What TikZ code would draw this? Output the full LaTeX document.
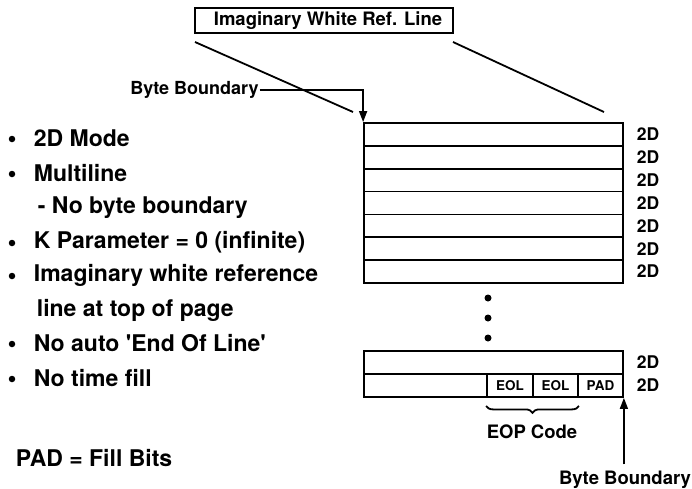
\documentclass[tikz,border=0pt]{standalone}
\usepackage{fontspec}
\setmainfont{TeX Gyre Heros}
\usetikzlibrary{positioning,arrows.meta,decorations.pathreplacing}

\begin{document}
\begin{tikzpicture}[x=1pt,y=-1pt,line width=1.8pt,
    txt/.style={font=\bfseries\fontsize{23}{26}\selectfont,inner sep=0pt,anchor=west},
    small/.style={font=\bfseries\fontsize{17.5}{18}\selectfont,inner sep=0pt},
    row/.style={draw,minimum width=259pt,minimum height=22.86pt,inner sep=0pt},
    cell/.style={draw,minimum height=23pt,inner sep=0pt,font=\bfseries\fontsize{13.5}{15}\selectfont},
    dotmark/.style={circle,fill,inner sep=0pt,minimum size=7pt},
    tip/.style={-{Triangle[width=8pt,length=11pt]}}]
    \useasboundingbox (0,0) rectangle (692,488);
    % reference line box and its perspective lines
    \node[draw,minimum width=258pt,minimum height=25pt,inner sep=0pt,
        font=\bfseries\fontsize{18.5}{20}\selectfont] (ref) at (324,20.5) {\hspace{8pt}Imaginary White Ref. Line};
    \coordinate (refl) at (195,42);
    \coordinate (refr) at (453,42);
    \coordinate (topl) at (353,112);
    \coordinate (topr) at (604,112);
    \draw (refl) -- (topl);
    \draw (refr) -- (topr);
    % upper stack of lines
    \foreach \i in {0,...,6}
        \node[row] (r\i) at (493.5,{134.4+\i*22.86}) {};
    \foreach \i in {0,...,6}
        \node[small,anchor=west] (d\i) at ([xshift=12pt]r\i.east) {2D};
    \node[font=\bfseries\fontsize{18}{20}\selectfont,inner sep=0pt] (bbtop) at (194.5,90) {Byte Boundary};
    \draw[tip,line width=1.5pt] (bbtop.east) -| (r0.north west);
    % dots
    \foreach \y [count=\n] in {298,318,338}
        \node[dotmark] (dot\n) at (488,\y) {};
    % last two lines
    \node[row,minimum height=23pt] (q1) at (493.5,362.5) {};
    \node[row,minimum height=23pt] (q2) at (493.5,385.5) {};
    \node[small,anchor=west] (e1) at ([xshift=12pt]q1.east) {2D};
    \node[small,anchor=west] (e2) at ([xshift=12pt]q2.east) {2D};
    \node[cell,minimum width=46pt] (eol1) at (510,385.5) {EOL};
    \node[cell,minimum width=45pt] (eol2) at (555.5,385.5) {EOL};
    \node[cell,minimum width=45pt] (pad) at (600.5,385.5) {PAD};
    \draw[decorate,decoration={brace,amplitude=7pt,mirror}]
        ([yshift=-8pt]eol1.south west) -- ([yshift=-8pt]eol2.south east);
    \node[font=\bfseries\fontsize{18.5}{20}\selectfont,inner sep=0pt] (eop) at (532,432) {EOP Code};
    \node[font=\bfseries\fontsize{18.5}{20}\selectfont,inner sep=0pt] (bbbot) at (625,480) {Byte Boundary};
    \draw[tip,line width=1.5pt] (pad.south east |- bbbot.north) ++(0,-6) -- (pad.south east);
    % list on the left
    \foreach \y/\t in {138/2D Mode,173/Multiline,242/K Parameter = 0 (infinite),
        275/Imaginary white reference,343/No auto \textquotesingle End Of Line\textquotesingle,378/No time fill}
        \node[txt] (l\y) at (33,\y) {\t};
    \foreach \y in {138,173,242,275,343,378}
        \node[dotmark,minimum size=6.5pt] (m\y) at (12,\y+1) {};
    \node[txt] (l208) at (37,208) {- No byte boundary};
    \node[txt] (l310) at (36,310) {line at top of page};
    \node[txt] (pad2) at (15,458) {PAD = Fill Bits};
\end{tikzpicture}
\end{document}
